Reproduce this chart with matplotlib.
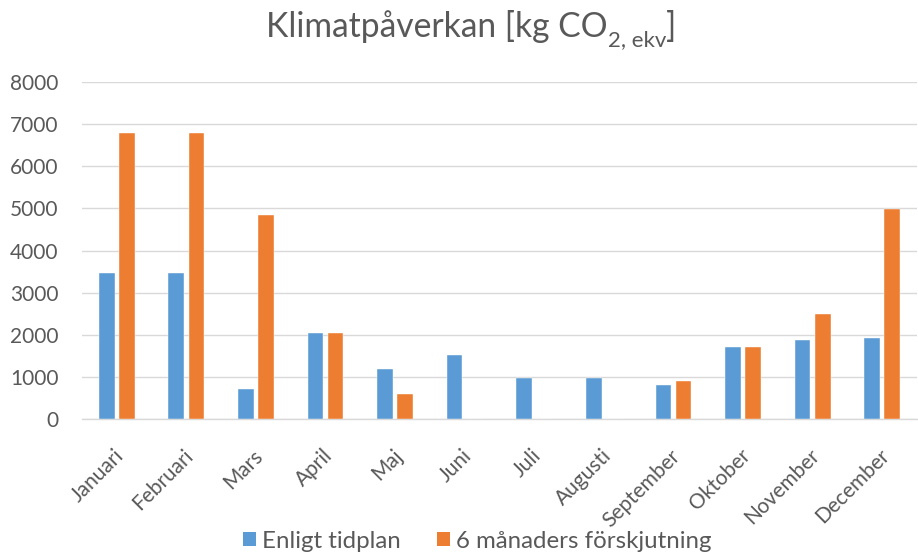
import matplotlib
matplotlib.use("Agg")
import matplotlib.pyplot as plt
import numpy as np
from matplotlib.patches import Patch
from matplotlib.transforms import ScaledTranslation

plt.rcParams['font.family'] = ['Lato', 'DejaVu Sans']

months = ["Januari", "Februari", "Mars", "April", "Maj", "Juni", "Juli",
          "Augusti", "September", "Oktober", "November", "December"]
enligt_tidplan = [3470, 3470, 720, 2040, 1190, 1530, 980, 980, 810, 1720, 1870, 1920]
forskjutning = [6800, 6800, 4850, 2040, 590, 0, 0, 0, 900, 1720, 2500, 4980]
series_names = ["Enligt tidplan", "6 månaders förskjutning"]
yticks = [0, 1000, 2000, 3000, 4000, 5000, 6000, 7000, 8000]

blue = "#5B9BD5"
orange = "#ED7D31"
grid = "#D9D9D9"
text_col = "#595959"

fig = plt.figure(figsize=(9.18, 5.53), dpi=100)
ax = fig.add_axes([82 / 918, (553 - 419.3) / 553, (917 - 82) / 918, (419.3 - 82) / 553])

x = np.arange(len(months))
w = 0.225
off = 0.145
ax.bar(x - off, enligt_tidplan, width=w, color=blue, edgecolor="white", linewidth=0.3, zorder=3)
ax.bar(x + off, forskjutning, width=w, color=orange, edgecolor="white", linewidth=0.3, zorder=3)

ax.set_xlim(-0.5, len(months) - 0.5)
ax.set_ylim(0, 8000)
ax.set_yticks(yticks)
ax.set_yticklabels([str(v) for v in yticks])
ax.yaxis.grid(True, color=grid, linewidth=1.0, zorder=0)
ax.set_axisbelow(True)
for s in ["top", "right", "left"]:
    ax.spines[s].set_visible(False)
ax.spines["bottom"].set_color(grid)
ax.spines["bottom"].set_linewidth(1.0)
ax.tick_params(axis="both", length=0, colors=text_col, labelsize=15)
ax.tick_params(axis="y", pad=17)

ax.set_xticks(x)
ax.set_xticklabels(months, rotation=45, ha="right", va="center", rotation_mode="anchor")
ax.tick_params(axis="x", pad=24)
shift = ScaledTranslation(0.04, 0, fig.dpi_scale_trans)
for lab in ax.get_xticklabels():
    lab.set_transform(lab.get_transform() + shift)

# Title with a lowered subscript, assembled piece by piece
fig.canvas.draw()
renderer = fig.canvas.get_renderer()
title_size = 24.2
sub_size = 16
parts = [("Klimatpåverkan [kg CO", title_size, 0), ("2, ekv", sub_size, -9), ("]", title_size, 0)]
widths = []
for txt, size, _ in parts:
    t = fig.text(0, 0, txt, fontsize=size)
    widths.append(t.get_window_extent(renderer).width)
    t.remove()
total = sum(widths)
cx = 471
base_y = 553 - 37
xpos = cx - total / 2
for (txt, size, dy), wd in zip(parts, widths):
    fig.text(xpos / 918, (base_y + dy) / 553, txt, fontsize=size, color=text_col,
             ha="left", va="baseline")
    xpos += wd

handles = [Patch(facecolor=blue), Patch(facecolor=orange)]
fig.legend(handles, series_names, loc="center", bbox_to_anchor=(477 / 918, 1 - 541 / 553),
           ncol=2, frameon=False, fontsize=17.3, labelcolor=text_col,
           handlelength=0.55, handleheight=0.55, handletextpad=0.25, columnspacing=1.5)

fig.savefig("out.png", dpi=100, facecolor="white")
